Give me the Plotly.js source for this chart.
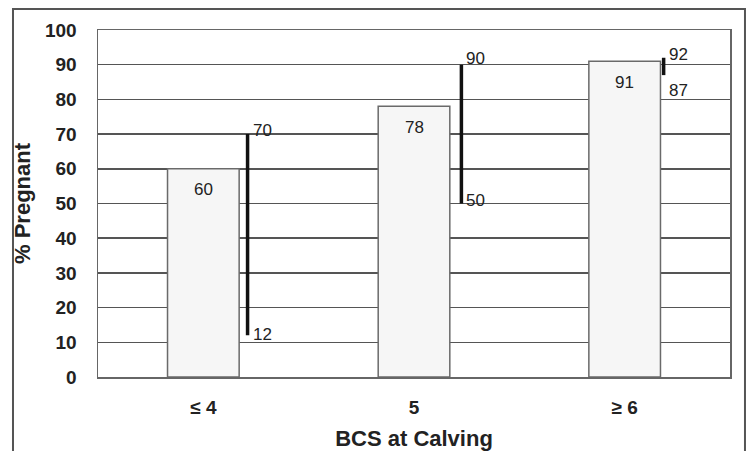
<!DOCTYPE html>
<html>
<head>
<meta charset="utf-8">
<script src="https://cdn.plot.ly/plotly-3.0.1.min.js"></script>
<style>html,body{margin:0;padding:0;background:#fff;}#chart{width:748px;height:451px;}</style>
</head>
<body>
<div id="chart"></div>
<script>
// Data
var categories = ["≤ 4", "5", "≥ 6"];
var pregnant = [60, 78, 91];
var rangeLow = [12, 50, 87];
var rangeHigh = [70, 90, 92];
var yTicks = [0, 10, 20, 30, 40, 50, 60, 70, 80, 90, 100];

// Style / placement
var rangeOffset = [0.21, 0.225, 0.185];
var lowLabelShift = [1, 3, -15];
var highLabelShift = [4, 6, 3];
var font = "Liberation Sans, Arial, sans-serif";

var xs = categories.map(function (c, i) { return i; });

var traces = [{
  type: "bar",
  x: xs,
  y: pregnant,
  width: 0.34,
  marker: {color: "#f6f6f6", line: {color: "#6a6a6a", width: 1.5}},
  hoverinfo: "skip",
  showlegend: false
}];

categories.forEach(function (c, i) {
  traces.push({
    type: "scatter",
    mode: "lines",
    x: [i + rangeOffset[i], i + rangeOffset[i]],
    y: [rangeLow[i], rangeHigh[i]],
    line: {color: "#111", width: 3.5},
    hoverinfo: "skip",
    showlegend: false
  });
});

var labelFont = {family: font, size: 17, color: "#222"};
var annotations = [];
categories.forEach(function (c, i) {
  annotations.push({
    x: i, y: pregnant[i], xref: "x", yref: "y",
    text: String(pregnant[i]), showarrow: false,
    yanchor: "middle", yshift: -21,
    font: labelFont
  });
  annotations.push({
    x: i + rangeOffset[i], y: rangeHigh[i], xref: "x", yref: "y",
    text: String(rangeHigh[i]), showarrow: false,
    xanchor: "left", yanchor: "middle", xshift: 3, yshift: highLabelShift[i],
    font: labelFont
  });
  annotations.push({
    x: i + rangeOffset[i], y: rangeLow[i], xref: "x", yref: "y",
    text: String(rangeLow[i]), showarrow: false,
    xanchor: "left", yanchor: "middle", xshift: 3, yshift: lowLabelShift[i],
    font: labelFont
  });
});

var layout = {
  width: 748, height: 451,
  margin: {l: 98, r: 18, t: 30, b: 74},
  paper_bgcolor: "#fff",
  plot_bgcolor: "#fff",
  font: {family: font, color: "#222"},
  xaxis: {
    range: [-0.5, 2.5],
    tickmode: "array",
    tickvals: xs,
    ticktext: categories,
    ticks: "",
    ticklabelstandoff: 13,
    tickfont: {family: font, size: 19, color: "#222", weight: "bold"},
    showgrid: false,
    zeroline: false,
    showline: true, mirror: true, linecolor: "#666", linewidth: 1.5,
    title: {text: "BCS at Calving", standoff: 14, font: {family: font, size: 22, color: "#222", weight: "bold"}},
    fixedrange: true
  },
  yaxis: {
    range: [0, 100],
    tickmode: "array",
    tickvals: yTicks,
    ticks: "",
    ticklabelstandoff: 16,
    tickfont: {family: font, size: 19, color: "#222", weight: "bold"},
    showgrid: true, gridcolor: "#555", gridwidth: 1.5,
    zeroline: false,
    showline: true, mirror: true, linecolor: "#666", linewidth: 1.5,
    title: {text: "% Pregnant", standoff: 8, font: {family: font, size: 22, color: "#222", weight: "bold"}},
    fixedrange: true
  },
  annotations: annotations,
  shapes: [{
    type: "path", xref: "paper", yref: "paper",
    path: "M -0.1345 -0.3 L -0.1345 1.0605 L 1.0237 1.0605 L 1.0237 -0.3",
    line: {color: "#555", width: 2}
  }],
  showlegend: false
};

Plotly.newPlot("chart", traces, layout, {displayModeBar: false, staticPlot: true});
</script>
</body>
</html>
